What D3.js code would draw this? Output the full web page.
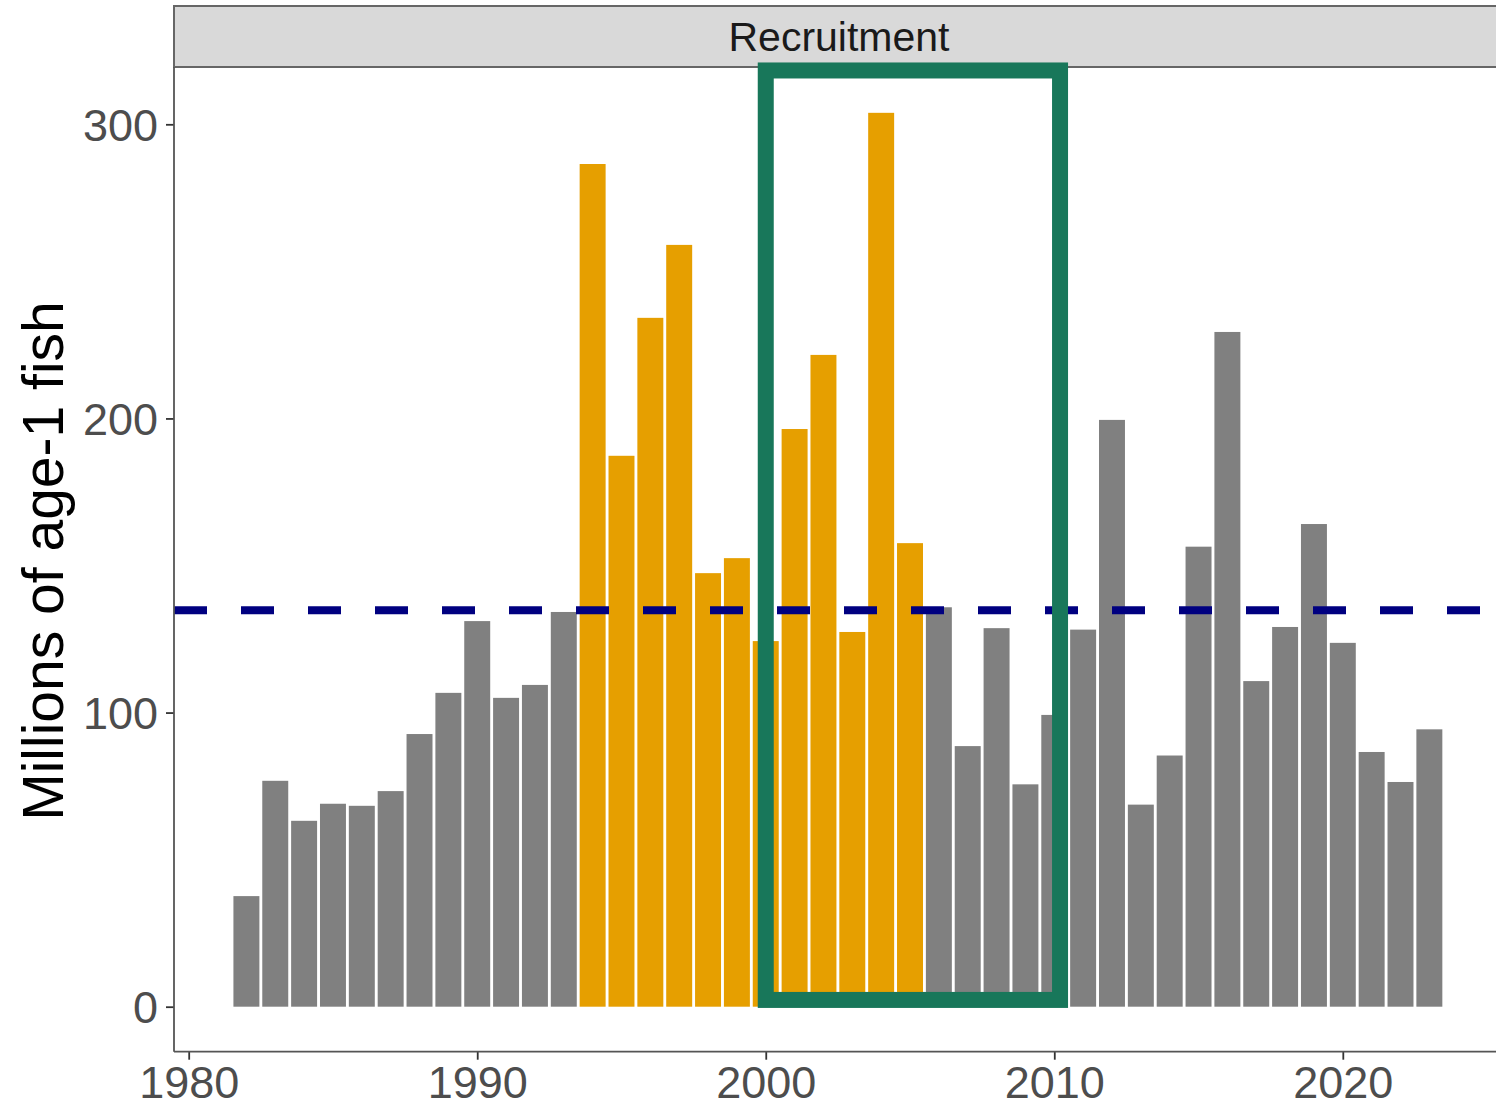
<!DOCTYPE html>
<html lang="en">
<head>
  <meta charset="UTF-8">
  <title>Recruitment</title>
  <script src="https://d3js.org/d3.v7.min.js"></script>
  <style>
    body {
      margin: 0;
      background-color: #ffffff;
      font-family: "Liberation Sans", Arial, sans-serif;
    }
    svg { display: block; }
  </style>
</head>
<body>
  <div id="chart"></div>

  <script>
    // recruitment by year (millions of age-1 fish)
    const years = d3.range(1982, 2024);
    const recruits = [
      37.6, 76.8, 63.2, 69.0, 68.3, 73.3, 92.7, 106.7, 131.1, 105.0,
      109.4, 134.2, 286.5, 187.3, 234.2, 259.0, 147.4, 152.5, 124.3, 196.4,
      221.6, 127.4, 303.9, 157.6, 135.8, 88.6, 128.7, 75.6, 99.2, 128.2,
      199.5, 68.7, 85.4, 156.4, 229.4, 110.7, 129.1, 164.1, 123.7, 86.6,
      76.4, 94.3
    ];
    const highlightYears = d3.range(1994, 2006);
    const meanLevel = 134.8;
    const boxX = [2000, 2010.2];
    const boxY = [2.3, 318.3];
    const xTicks = [1980, 1990, 2000, 2010, 2020];
    const yTicks = [0, 100, 200, 300];

    const data = years.map((y, i) => ({ year: y, value: recruits[i] }));

    const width = 1496, height = 1103;
    const panel = { left: 174, right: 1496, top: 67, bottom: 1051.7 };

    const x = d3.scaleLinear().domain([1980, 2020]).range([188.7, 1342.8]);
    const y = d3.scaleLinear().domain([0, 300]).range([1006.7, 124.3]);

    const svg = d3.select("#chart")
      .append("svg")
      .attr("width", width)
      .attr("height", height);

    // bars
    svg.append("g")
      .selectAll("rect")
      .data(data)
      .enter()
      .append("rect")
      .attr("x", d => x(d.year - 0.45))
      .attr("width", d => x(d.year + 0.45) - x(d.year - 0.45))
      .attr("y", d => y(d.value))
      .attr("height", d => y(0) - y(d.value))
      .attr("fill", d => highlightYears.includes(d.year) ? "#E69F00" : "#808080");

    // mean line
    svg.append("line")
      .attr("x1", panel.left)
      .attr("x2", panel.right)
      .attr("y1", y(meanLevel))
      .attr("y2", y(meanLevel))
      .attr("stroke", "#000080")
      .attr("stroke-width", 8)
      .attr("stroke-dasharray", "33,34");

    // strip
    svg.append("rect")
      .attr("x", panel.left)
      .attr("y", 6)
      .attr("width", panel.right - panel.left + 10)
      .attr("height", panel.top - 6)
      .attr("fill", "#d9d9d9")
      .attr("stroke", "#666666")
      .attr("stroke-width", 2);

    svg.append("text")
      .attr("x", 839)
      .attr("y", 51)
      .attr("text-anchor", "middle")
      .attr("font-size", 41)
      .attr("fill", "#1a1a1a")
      .text("Recruitment");

    // axes
    const yAxis = d3.axisLeft(y).tickValues(yTicks).tickSize(8).tickPadding(8);
    const xAxis = d3.axisBottom(x).tickValues(xTicks).tickSize(8).tickPadding(6).tickFormat(d3.format("d"));

    const gy = svg.append("g")
      .attr("transform", `translate(${panel.left},0)`)
      .call(yAxis);
    const gx = svg.append("g")
      .attr("transform", `translate(0,${panel.bottom})`)
      .call(xAxis);

    [gx, gy].forEach(g => {
      g.select(".domain").remove();
      g.selectAll(".tick line").attr("stroke", "#333333").attr("stroke-width", 1.8);
      g.selectAll(".tick text")
        .attr("fill", "#4d4d4d")
        .attr("font-size", 45)
        .attr("font-family", "'Liberation Sans', Arial, sans-serif");
    });
    gy.selectAll(".tick text").attr("dy", "0.36em");
    gx.selectAll(".tick text").attr("dy", "0.71em");

    svg.append("line")
      .attr("x1", panel.left).attr("x2", panel.left)
      .attr("y1", panel.top).attr("y2", panel.bottom)
      .attr("stroke", "#555555").attr("stroke-width", 1.8);
    svg.append("line")
      .attr("x1", panel.left).attr("x2", panel.right)
      .attr("y1", panel.bottom).attr("y2", panel.bottom)
      .attr("stroke", "#555555").attr("stroke-width", 1.8);

    // highlight box
    svg.append("rect")
      .attr("x", x(boxX[0]))
      .attr("y", y(boxY[1]))
      .attr("width", x(boxX[1]) - x(boxX[0]))
      .attr("height", y(boxY[0]) - y(boxY[1]))
      .attr("fill", "none")
      .attr("stroke", "#18775A")
      .attr("stroke-width", 16);

    // y title
    svg.append("text")
      .attr("transform", `translate(63,561) rotate(-90)`)
      .attr("text-anchor", "middle")
      .attr("font-size", 57)
      .attr("fill", "#000000")
      .text("Millions of age-1 fish");
  </script>
</body>
</html>
